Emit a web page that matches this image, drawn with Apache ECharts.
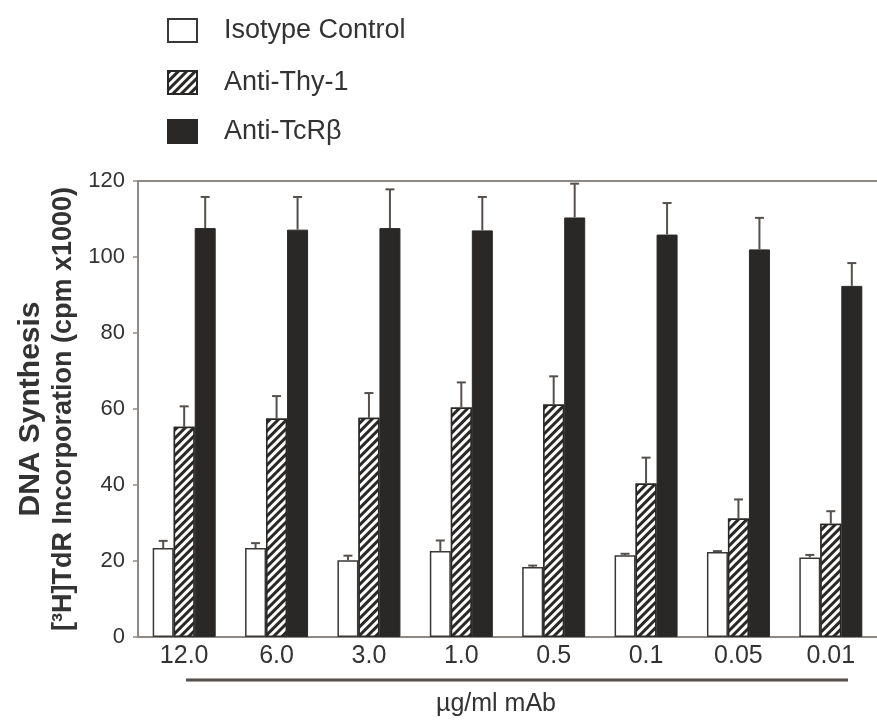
<!DOCTYPE html>
<html>
<head>
<meta charset="utf-8">
<script src="https://cdn.jsdelivr.net/npm/echarts@6/dist/echarts.min.js"></script>
<style>
html,body{margin:0;padding:0;background:#fff;}
#chart{width:877px;height:722px;}
</style>
</head>
<body>
<div id="chart"></div>
<script>
// ---- data ----
const categories = ['12.0', '6.0', '3.0', '1.0', '0.5', '0.1', '0.05', '0.01'];
const seriesNames = ['Isotype Control', 'Anti-Thy-1', 'Anti-TcRβ'];
const isotypeVals = [23.4, 23.4, 20.2, 22.6, 18.4, 21.5, 22.4, 20.9];
const isotypeErr  = [1.9, 1.3, 1.2, 2.8, 0.4, 0.4, 0.2, 0.7];
const thyVals     = [55.3, 57.5, 57.7, 60.4, 61.2, 40.4, 31.2, 29.8];
const thyErr      = [5.4, 5.9, 6.5, 6.6, 7.4, 6.8, 5.0, 3.3];
const tcrVals     = [107.6, 107.2, 107.6, 107.0, 110.4, 105.9, 102.0, 92.4];
const tcrErr      = [8.2, 8.6, 10.2, 8.8, 8.9, 8.3, 8.3, 6.0];
const yTicks = [0, 20, 40, 60, 80, 100, 120];
const yTitle1 = 'DNA Synthesis';
const yTitle2 = '[³H]TdR Incorporation (cpm x1000)';
const xTitle = 'µg/ml mAb';

// ---- styling ----
const DARK = '#2a2826';
const AXIS = '#8e8984';
const BAR_W = 21;
const FONT = 'Liberation Sans, Arial, Helvetica, sans-serif';

const chart = echarts.init(document.getElementById('chart'), null, {renderer: 'canvas'});

function errSeries(vals, errs, offset) {
  return {
    type: 'custom',
    z: 5,
    silent: true,
    data: vals.map((v, i) => [i, v, errs[i]]),
    renderItem: function (params, api) {
      const base = api.coord([api.value(0), api.value(1)]);
      const top = api.coord([api.value(0), api.value(1) + api.value(2)]);
      const x = base[0] + offset;
      return {
        type: 'group',
        children: [
          {type: 'line', shape: {x1: x, y1: base[1], x2: x, y2: top[1]},
           style: {stroke: '#55504c', lineWidth: 2}},
          {type: 'line', shape: {x1: x - 4.5, y1: top[1], x2: x + 4.5, y2: top[1]},
           style: {stroke: '#55504c', lineWidth: 2}}
        ]
      };
    }
  };
}

const hatch = {
  symbol: 'rect',
  symbolSize: 1,
  dashArrayX: [1, 0],
  dashArrayY: [2.5, 3],
  rotation: -Math.PI / 4,
  color: DARK,
  backgroundColor: '#ffffff'
};

function legendAt(name, top) {
  return {
    data: [name],
    left: 162,
    top: top,
    orient: 'vertical',
    itemWidth: 29,
    itemHeight: 23,
    icon: 'rect',
    selectedMode: false,
    textStyle: {fontSize: 27, color: '#333', fontFamily: FONT, padding: [0, 0, 0, 22]}
  };
}

const option = {
  backgroundColor: '#ffffff',
  animation: false,
  legend: [
    legendAt(seriesNames[0], 12),
    legendAt(seriesNames[1], 64),
    legendAt(seriesNames[2], 113)
  ],
  grid: {left: 138, right: -4, top: 181, bottom: 85, containLabel: false},
  xAxis: [
    {
      type: 'category',
      data: categories,
      position: 'bottom',
      axisLine: {show: true, lineStyle: {color: AXIS, width: 2}},
      axisTick: {show: false},
      axisLabel: {fontSize: 25, color: '#333', fontFamily: FONT, margin: 7},
      splitLine: {show: false}
    },
    {
      type: 'category',
      data: categories,
      position: 'top',
      axisLine: {show: true, lineStyle: {color: AXIS, width: 2}},
      axisTick: {show: false},
      axisLabel: {show: false}
    }
  ],
  yAxis: {
    type: 'value',
    min: yTicks[0],
    max: yTicks[yTicks.length - 1],
    interval: 20,
    axisLine: {show: true, lineStyle: {color: AXIS, width: 2}},
    axisTick: {show: true, length: 5, lineStyle: {color: AXIS, width: 1.5}},
    axisLabel: {fontSize: 22, color: '#333', fontFamily: FONT, margin: 13},
    splitLine: {show: false},
    name: '{a|' + yTitle1 + '}\n{b|' + yTitle2 + '}',
    nameLocation: 'middle',
    nameRotate: 90,
    nameGap: 58,
    nameTextStyle: {
      color: '#333',
      fontFamily: FONT,
      rich: {
        a: {fontSize: 30, fontWeight: 'bold', color: '#333', fontFamily: FONT, lineHeight: 33},
        b: {fontSize: 27, fontWeight: 'bold', color: '#333', fontFamily: FONT, lineHeight: 33}
      }
    }
  },
  series: [
    {
      name: seriesNames[0], type: 'bar', data: isotypeVals, barWidth: BAR_W, barGap: '0%',
      itemStyle: {color: '#ffffff', borderColor: '#3a3836', borderWidth: 1.5}
    },
    {
      name: seriesNames[1], type: 'bar', data: thyVals, barWidth: BAR_W, barGap: '0%',
      itemStyle: {color: '#ffffff', borderColor: DARK, borderWidth: 1.5, decal: hatch}
    },
    {
      name: seriesNames[2], type: 'bar', data: tcrVals, barWidth: BAR_W, barGap: '0%',
      itemStyle: {color: DARK, borderColor: DARK, borderWidth: 1}
    },
    errSeries(isotypeVals, isotypeErr, -BAR_W),
    errSeries(thyVals, thyErr, 0),
    errSeries(tcrVals, tcrErr, BAR_W)
  ],
  graphic: [
    {type: 'line', shape: {x1: 186, y1: 680, x2: 848, y2: 680},
     style: {stroke: '#55504c', lineWidth: 3}},
    {type: 'text', left: 436, top: 692,
     style: {text: xTitle, fontSize: 25, fill: '#333', fontFamily: FONT}}
  ]
};

chart.setOption(option);
</script>
</body>
</html>
